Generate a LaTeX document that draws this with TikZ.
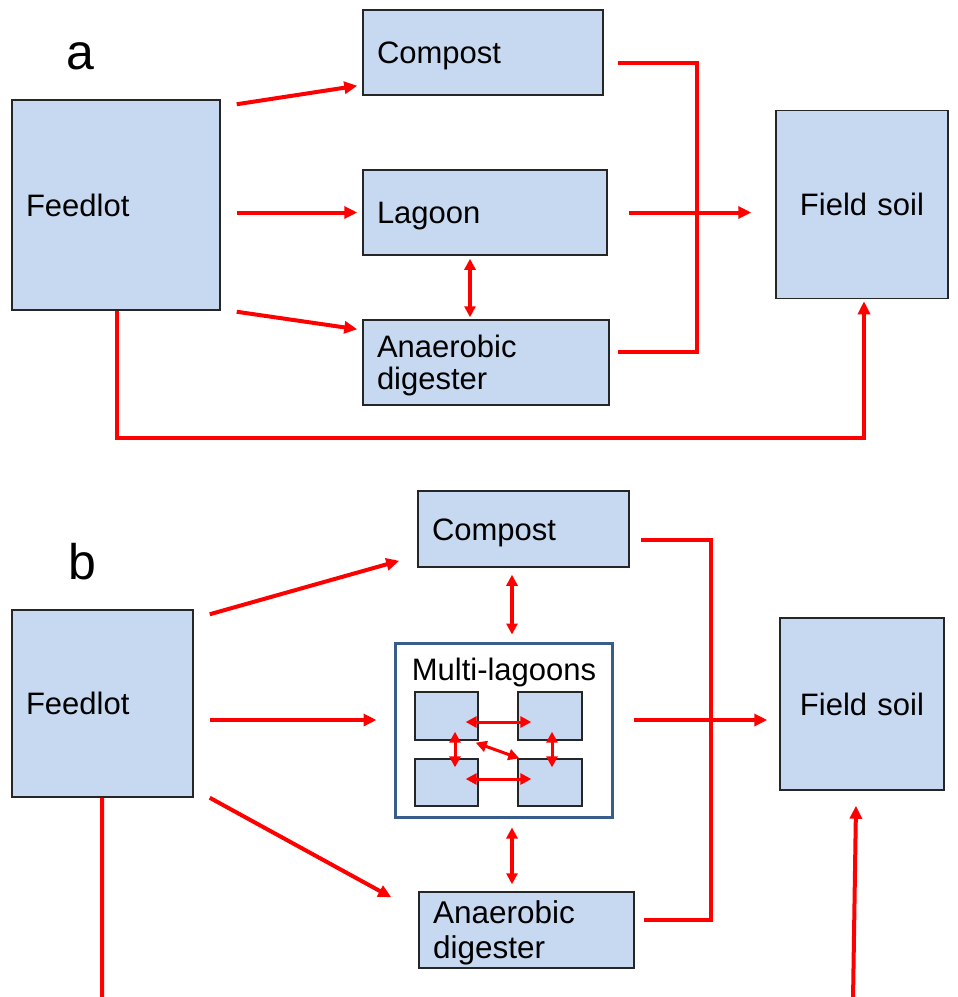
\documentclass[tikz,border=0pt]{standalone}
\usepackage{fontspec}
\setmainfont{Liberation Sans}
\usetikzlibrary{arrows.meta,calc}
\definecolor{boxfill}{HTML}{C6D9F1}
\definecolor{frameblue}{HTML}{385D8A}
\definecolor{arrred}{HTML}{FF0000}
\tikzset{
  box/.style={draw=black!85, line width=1.5pt, fill=boxfill, inner xsep=14pt, inner ysep=0pt,
    font=\fontsize{31}{32.5}\selectfont, align=left, anchor=center, text height=28pt, text depth=5.8pt},
  twoline/.style={text depth=38.3pt},
  twolinewide/.style={font=\fontsize{31.5}{35}\selectfont, text depth=40.6pt},
  smallbox/.style={draw=black!85, line width=1.3pt, fill=boxfill, inner sep=0pt},
  flow/.style={draw=arrred, line width=4pt, -{Triangle[length=13pt,width=12pt]}},
  flowline/.style={draw=arrred, line width=4pt},
  both/.style={draw=arrred, line width=3.5pt, {Triangle[length=11pt,width=11pt]}-{Triangle[length=11pt,width=11pt]}},
  inboth/.style={draw=arrred, line width=3pt, {Triangle[length=11pt,width=11pt]}-{Triangle[length=11pt,width=11pt]}},
  panel/.style={font=\fontsize{50}{60}\selectfont, inner sep=0pt}
}
\begin{document}
\begin{tikzpicture}[x=1pt,y=-1pt]
\useasboundingbox (0,0) rectangle (958,997);
% ---------- panel a ----------
\node[panel] (la) at (80,56) {a};
\node[box, minimum width=208, minimum height=210, text width=180] (feedA) at (116,205) {Feedlot};
\node[box, minimum width=240, minimum height=85, text width=212] (compA) at (483,52.5) {Compost};
\node[box, minimum width=244, minimum height=85, text width=216] (lagA) at (485,212.5) {Lagoon};
\node[box, twoline, minimum width=246, minimum height=85, text width=218] (digA) at (486,362.5) {Anaerobic\\digester};
\node[box, minimum width=172, minimum height=188, text width=144, align=center] (fieldA) at (862,204.5) {Field soil};

\draw[flow] ($(feedA.north east)+(16,5)$) -- ($(compA.south west)+(-5,-10)$);
\draw[flow] ($(feedA.east)+(16,7.5)$) -- ($(lagA.west)+(-5,0)$);
\draw[flow] ($(feedA.south east)+(16,1)$) -- ($(digA.north west)+(-5,10)$);
\draw[both] ($(lagA.south)+(-15,3)$) -- ($(digA.north)+(-16,-2)$);
\draw[flowline] ($(compA.east)+(14,10.5)$) -- ++(79,0) |- ($(digA.east)+(8,-10.5)$);
\draw[flow] ($(lagA.east)+(21,0)$) -- ($(fieldA.west)+(-24,8)$);
\draw[flow] ($(feedA.south)+(1,0)$) -- ++(0,127) -| ($(fieldA.south)+(2,2)$);

% ---------- panel b ----------
\node[panel] (lb) at (82,562) {b};
\node[box, minimum width=181, minimum height=187, text width=153] (feedB) at (102.5,703.5) {Feedlot};
\node[box, minimum width=211, minimum height=76, text width=183] (compB) at (523.5,529) {Compost};
\node[draw=frameblue, line width=3pt, fill=white, minimum width=217, minimum height=174, inner sep=0pt] (multi) at (503.5,730) {};
\node[font=\fontsize{31}{32.5}\selectfont, inner sep=0pt, anchor=base] (multit) at (504,680) {Multi-lagoons};
\node[smallbox, minimum width=63, minimum height=48] (tl) at (446.5,716) {};
\node[smallbox, minimum width=64, minimum height=48] (tr) at (550,716) {};
\node[smallbox, minimum width=63, minimum height=47] (bl) at (446.5,782.5) {};
\node[smallbox, minimum width=64, minimum height=47] (br) at (550,782.5) {};
\node[box, minimum width=164, minimum height=172, text width=136, align=center] (fieldB) at (862,704) {Field soil};
\node[box, twolinewide, minimum width=215, minimum height=76, text width=187] (digB) at (526.5,930) {Anaerobic\\digester};

\draw[inboth] ($(tl.east)+(-13,6)$) -- ($(tr.west)+(14,6)$);
\draw[inboth] ($(bl.east)+(-13,-3.5)$) -- ($(br.west)+(14,-3.5)$);
\draw[inboth] ($(tl.south)+(8.5,-9)$) -- ($(bl.north)+(8.5,9)$);
\draw[inboth] ($(tr.south)+(2,-9)$) -- ($(br.north)+(2,9)$);
\draw[inboth] ($(tl.south east)+(-3,2)$) -- ($(br.north west)+(2,0)$);

\draw[flow] ($(feedB.north east)+(16,5)$) -- ($(compB.south west)+(-18,-7)$);
\draw[flow] ($(feedB.east)+(16,16.5)$) -- ($(multi.west)+(-17,-10)$);
\draw[flow] ($(feedB.south east)+(16,0)$) -- ($(digB.north west)+(-27,6)$);
\draw[both] ($(compB.south)+(-11.5,7)$) -- ($(multi.north)+(8.5,-7)$);
\draw[both] ($(multi.south)+(8.5,9)$) -- ($(digB.north)+(-14.5,-7)$);
\draw[flowline] ($(compB.east)+(11,11)$) -- ++(70,0) |- ($(digB.east)+(9,-10)$);
\draw[flow] ($(multi.east)+(20,-10)$) -- ($(fieldB.west)+(-12,16)$);
\draw[flowline] ($(feedB.south)+(-0.5,0)$) -- ++(0,202.5) coordinate (bl1) -- ($(fieldB.south)+(-9,210)$) coordinate (br1);
\draw[flow] (br1) -- ($(fieldB.south)+(-6,15)$);
\end{tikzpicture}
\end{document}
